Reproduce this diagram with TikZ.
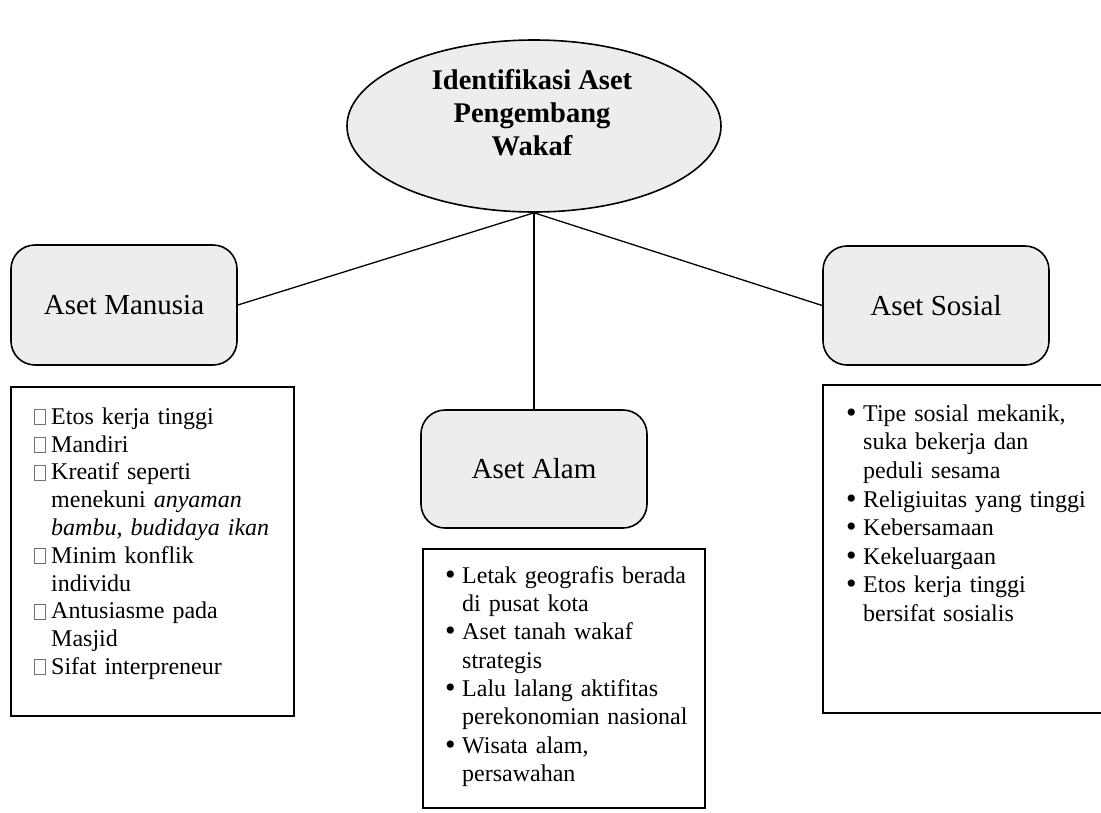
\documentclass[tikz,border=0pt]{standalone}
\usepackage{fontspec}
\setmainfont{Liberation Serif}
\usetikzlibrary{shapes.geometric}
\newcommand\sqmark{\tikz[baseline=0pt]\draw[line width=0.6pt,black!55] (0pt,0pt) rectangle (11pt,15pt);}
\newcommand\nl{\hfil\break}
\newcommand\bigbullet{\raisebox{-1pt}{\fontsize{30}{30}\selectfont\textbullet}}
\newcommand\itemsq[1]{\hangindent=17pt\hangafter=1\noindent\rule{0pt}{18pt}\makebox[17pt][l]{\sqmark}#1\par}
\newcommand\itembu[1]{\hangindent=17pt\hangafter=1\noindent\rule{0pt}{18pt}\makebox[17pt][l]{\bigbullet}#1\par}
\tikzset{
  assetbox/.style={draw, line width=1.6pt, fill=black!7, rounded corners=24pt,
    minimum width=226pt, font=\fontsize{29}{33}\selectfont},
  listbox/.style={draw, line width=1.5pt},
  listtext/.style={anchor=north west, inner sep=0pt, text width=290pt, font=\fontsize{24}{27.8}\selectfont},
  conn/.style={line width=1.3pt}
}
\begin{document}
\begin{tikzpicture}[x=1pt,y=-1pt]
\useasboundingbox (0,0) rectangle (1101,812);
% central ellipse
\node[draw, ellipse, line width=1.6pt, fill=black!7, minimum width=374pt, minimum height=172pt] (ell) at (534,126) {};
\node[align=center, font=\bfseries\fontsize{28.5}{33}\selectfont] (title) at (532,113) {Identifikasi Aset\\Pengembang\\Wakaf};
% asset boxes
\node[assetbox, minimum height=120pt] (man) at (124,305) {Aset Manusia};
\node[assetbox, minimum height=118pt] (alam) at (534,469) {Aset Alam};
\node[assetbox, minimum height=119pt] (sos) at (936,305.5) {Aset Sosial};
% connectors
\draw[conn] (ell.south) -- (man.east);
\draw[conn] (ell.south) -- (sos.west);
\draw[conn] (ell.south) -- (alam.north);
% list frames
\draw[listbox] (11,387) rectangle (294,716);
\draw[listbox] (423,549) rectangle (705,808);
\draw[listbox] (823,385) rectangle (1106,713);
% list texts
\node[listtext] (manlist) at (34,406) {%
\itemsq{Etos kerja tinggi}
\itemsq{Mandiri}
\itemsq{Kreatif seperti\nl menekuni \textit{anyaman}\nl \textit{bambu, budidaya ikan}}
\itemsq{Minim konflik\nl individu}
\itemsq{Antusiasme pada\nl Masjid}
\itemsq{Sifat interpreneur}};
\node[listtext, font=\fontsize{24}{28.3}\selectfont] (alamlist) at (445,565) {%
\itembu{Letak geografis berada\nl di pusat kota}
\itembu{Aset tanah wakaf\nl strategis}
\itembu{Lalu lalang aktifitas\nl perekonomian nasional}
\itembu{Wisata alam,\nl persawahan}};
\node[listtext, font=\fontsize{24}{28.6}\selectfont] (soslist) at (846,403) {%
\itembu{Tipe sosial mekanik,\nl suka bekerja dan\nl peduli sesama}
\itembu{Religiuitas yang tinggi}
\itembu{Kebersamaan}
\itembu{Kekeluargaan}
\itembu{Etos kerja tinggi\nl bersifat sosialis}};
\end{tikzpicture}
\end{document}
